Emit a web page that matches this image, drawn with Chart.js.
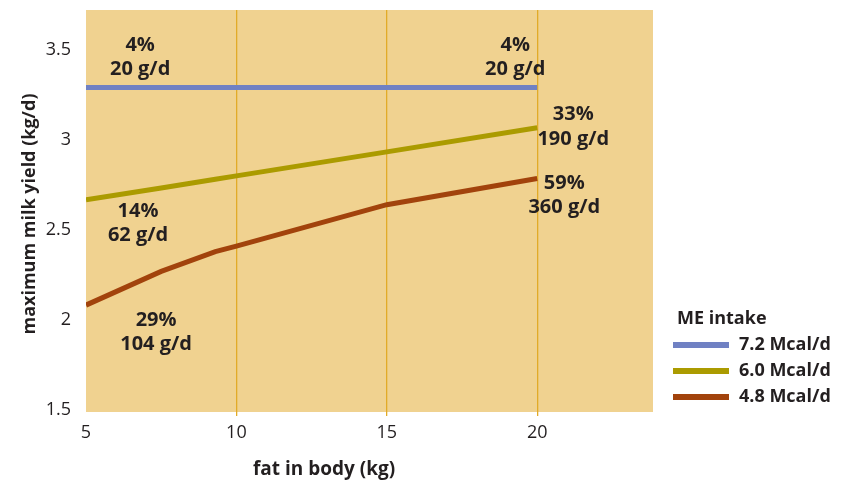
<!DOCTYPE html>
<html>
<head>
<meta charset="utf-8">
<script src="https://cdn.jsdelivr.net/npm/chart.js@4.4.1/dist/chart.umd.min.js"></script>
<style>
  html, body { margin: 0; padding: 0; background: #fff; }
  #wrap { width: 843px; height: 485px; }
</style>
</head>
<body>
<div id="wrap"><canvas id="c"></canvas></div>
<script>
// data
const fatBody = [5, 7.5, 9.3, 10, 15, 20];
const yield72 = [3.29, 3.29, 3.29, 3.29, 3.29, 3.29];
const yield60 = [2.667, 2.733, 2.781, 2.8, 2.933, 3.067];
const yield48 = [2.083, 2.27, 2.38, 2.41, 2.64, 2.785];
const seriesNames = ['7.2 Mcal/d', '6.0 Mcal/d', '4.8 Mcal/d'];
const xTicks = [5, 10, 15, 20];
const yTicks = [1.5, 2, 2.5, 3, 3.5];

// annotation texts and where they sit (data coords of the first line)
const noteTexts = [['4%', '20 g/d'], ['4%', '20 g/d'], ['33%', '190 g/d'], ['59%', '360 g/d'], ['14%', '62 g/d'], ['29%', '104 g/d']];
const noteX = [6.8, 19.27, 21.2, 20.9, 6.73, 7.33];
const noteY = [3.525, 3.525, 3.14, 2.761, 2.606, 2.0];

const colors = ['#7081c3', '#ab9b00', '#a2430c'];
const FONT = '"Open Sans", "DejaVu Sans", sans-serif';

const toPts = (ys) => fatBody.map((x, i) => ({ x, y: ys[i] }));

const decor = {
  id: 'decor',
  beforeDraw(chart) {
    const { ctx, chartArea: a } = chart;
    ctx.save();
    ctx.fillStyle = '#f0d290';
    ctx.fillRect(a.left, a.top, a.right - a.left, a.bottom - a.top);
    ctx.restore();
  },
  afterDraw(chart) {
    const { ctx, chartArea: a, scales } = chart;
    ctx.save();
    ctx.fillStyle = '#231f20';
    ctx.textAlign = 'center';
    ctx.textBaseline = 'middle';
    ctx.font = 'bold 20px ' + FONT;
    noteTexts.forEach((lines, i) => {
      const px = scales.x.getPixelForValue(noteX[i]);
      const py = scales.y.getPixelForValue(noteY[i]);
      lines.forEach((t, j) => ctx.fillText(t, px, py + j * 24.5));
    });

    // axis titles
    ctx.font = 'bold 19px ' + FONT;
    ctx.fillText('fat in body (kg)', 324, 470);
    ctx.save();
    ctx.translate(30, (a.top + a.bottom) / 2 + 3);
    ctx.rotate(-Math.PI / 2);
    ctx.font = 'bold 18px ' + FONT;
    ctx.fillText('maximum milk yield (kg/d)', 0, 0);
    ctx.restore();

    // legend
    ctx.textAlign = 'left';
    ctx.font = 'bold 18px ' + FONT;
    ctx.fillText('ME intake', 677, 319);
    chart.data.datasets.forEach((ds, i) => {
      const y = 345 + i * 26;
      ctx.fillStyle = ds.borderColor;
      ctx.fillRect(673, y - 3, 56, 6);
      ctx.fillStyle = '#231f20';
      ctx.fillText(ds.label, 739, y);
    });
    ctx.restore();
  }
};

new Chart(document.getElementById('c'), {
  type: 'line',
  data: {
    datasets: [
      { label: seriesNames[0], data: toPts(yield72), borderColor: colors[0] },
      { label: seriesNames[1], data: toPts(yield60), borderColor: colors[1] },
      { label: seriesNames[2], data: toPts(yield48), borderColor: colors[2] }
    ]
  },
  options: {
    responsive: true,
    maintainAspectRatio: false,
    animation: false,
    layout: { padding: { top: 10, right: 190, left: 0, bottom: 0 } },
    elements: {
      line: { borderWidth: 5, tension: 0, borderCapStyle: 'butt' },
      point: { radius: 0 }
    },
    plugins: { legend: { display: false }, tooltip: { enabled: false } },
    scales: {
      x: {
        type: 'linear',
        min: 5,
        max: 23.85,
        afterBuildTicks: (s) => { s.ticks = xTicks.map((v) => ({ value: v })); },
        afterFit: (s) => { s.height = 73; s.paddingLeft = 0; s.paddingRight = 0; },
        border: { display: false },
        grid: {
          color: (c) => (c.tick && c.tick.value === 5 ? 'rgba(0,0,0,0)' : '#e2ab28'),
          lineWidth: 1.3,
          tickLength: 4,
          drawTicks: true
        },
        ticks: { color: '#231f20', padding: 6, font: { family: FONT, size: 18 } }
      },
      y: {
        min: 1.49,
        max: 3.72,
        afterBuildTicks: (s) => { s.ticks = yTicks.map((v) => ({ value: v })); },
        afterFit: (s) => { s.width = 86; s.paddingTop = 0; s.paddingBottom = 0; },
        border: { display: false },
        grid: { display: false },
        ticks: {
          color: '#231f20',
          padding: 7,
          font: { family: FONT, size: 18 },
          callback: (v) => String(v)
        }
      }
    }
  },
  plugins: [decor]
});
</script>
</body>
</html>
